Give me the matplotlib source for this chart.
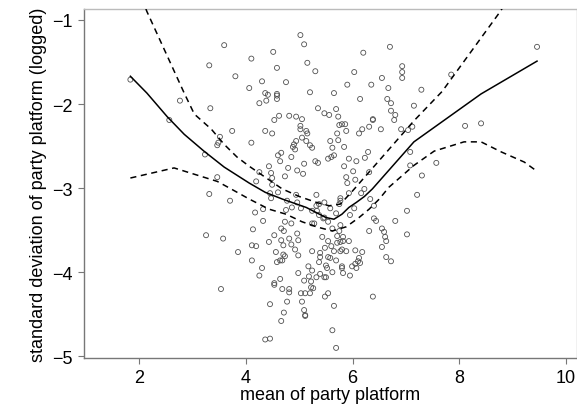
import numpy as np
import matplotlib
matplotlib.use('Agg')
import matplotlib.pyplot as plt

plt.rcParams['font.family'] = ['Liberation Sans', 'DejaVu Sans']

# party platforms: mean (x) and logged standard deviation (y)
mean_platform = [
    3.59, 3.31, 3.80, 1.83, 5.02, 5.09, 4.51, 4.10, 4.58, 5.15, 5.30, 4.30, 4.75, 4.06, 4.36, 4.58,
    5.20, 5.65, 5.90, 6.03, 6.20, 6.70, 6.93, 6.93, 6.93, 6.55, 6.35, 6.67, 9.46, 7.85, 7.29,
    2.76, 3.33, 2.56, 3.74, 3.51, 3.48, 3.46, 3.23, 3.46,
    4.25, 4.38, 4.41, 4.58, 4.58, 6.14, 6.65, 6.72, 7.15, 5.35, 5.47, 5.56, 5.69, 5.73, 4.53, 4.62,
    4.81, 4.94, 5.05, 5.02, 5.02, 5.13, 5.15, 5.75, 5.80, 5.86, 5.88, 5.71, 6.38, 6.38, 6.72, 6.80,
    6.78, 6.31, 6.18, 6.12, 6.53, 6.91, 7.04, 7.12, 4.36, 4.49, 4.10, 5.05, 4.94, 5.13, 4.90, 4.88,
    4.92, 5.20, 5.24, 5.58, 5.73, 5.62, 5.84, 4.60, 4.66, 4.64, 4.85, 5.30, 5.35, 5.54, 5.60, 5.65,
    5.93, 6.07, 6.23, 6.29, 7.08, 4.43, 4.79, 5.09, 4.73, 4.96, 5.07, 5.84, 6.01, 5.88, 5.90, 6.05,
    4.47, 4.49, 4.49, 4.25, 4.19, 6.31, 7.08,
    8.11, 8.41, 7.57, 7.30,
    3.31, 3.70, 3.25, 3.57, 3.85,
    4.45, 4.47, 4.60, 4.94, 5.32, 5.77, 5.93, 6.16, 6.22, 4.17, 4.32, 4.32, 4.13, 4.11, 4.19, 4.11,
    4.30, 4.25, 4.53, 4.64, 4.77, 4.96, 4.75, 4.86, 5.03, 5.24, 5.32, 5.37, 5.47, 5.33, 5.37, 5.45,
    5.58, 5.69, 5.75, 5.77, 6.03, 5.95, 4.73, 4.85, 4.66, 4.71, 4.81, 4.96, 4.98, 5.24, 5.28, 5.47,
    5.62, 5.75, 5.77, 5.54, 4.53, 4.43, 4.66, 4.70, 4.85, 4.92, 5.43, 5.54, 5.71, 5.82, 5.82, 5.93,
    5.77, 5.71, 5.48, 5.60, 5.65, 5.77, 5.80, 5.88, 6.05, 6.18, 4.56, 4.58, 4.64, 4.68, 4.70, 4.73,
    4.98, 5.24, 5.39, 5.39, 5.37, 5.54, 5.17, 5.24, 5.50, 5.52, 5.47, 5.50, 5.62, 5.58, 5.69, 5.80,
    5.80, 5.99, 6.05, 6.10, 6.12, 6.14, 6.07, 4.98, 5.09, 5.18, 5.22, 5.39, 5.32, 5.82, 5.95, 6.31,
    6.40, 6.40, 6.44, 6.33, 6.55, 6.59, 6.61, 6.63, 6.55, 6.63, 6.72, 6.80, 7.02, 7.02,
    7.21, 3.53,
    4.53, 4.68, 4.81, 4.81, 5.03, 5.11, 5.20, 5.22, 5.26, 5.48, 5.54, 5.65, 6.38, 4.45, 4.77, 5.05,
    4.71, 5.09, 5.11, 5.11, 4.66, 5.62, 4.36, 4.45, 5.69,
]
sd_platform = [
    -1.30, -1.54, -1.67, -1.71, -1.18, -1.29, -1.38, -1.46, -1.57, -1.51, -1.61, -1.73, -1.74, -1.81, -1.87, -1.88,
    -1.86, -1.87, -1.77, -1.62, -1.39, -1.32, -1.55, -1.62, -1.69, -1.69, -1.77, -1.81, -1.32, -1.65, -1.83,
    -1.96, -2.05, -2.19, -2.32, -2.39, -2.46, -2.49, -2.60, -2.87,
    -1.99, -1.96, -1.89, -1.90, -1.94, -1.94, -1.94, -1.99, -2.02, -2.05, -2.11, -2.13, -2.06, -2.15, -2.19, -2.14,
    -2.14, -2.15, -2.18, -2.26, -2.30, -2.32, -2.35, -2.25, -2.24, -2.24, -2.32, -2.35, -2.18, -2.19, -2.08, -2.13,
    -2.19, -2.27, -2.30, -2.35, -2.30, -2.30, -2.31, -2.27, -2.32, -2.35, -2.46, -2.40, -2.44, -2.44, -2.48, -2.51,
    -2.54, -2.49, -2.52, -2.44, -2.43, -2.52, -2.51, -2.61, -2.58, -2.68, -2.63, -2.68, -2.70, -2.65, -2.63, -2.61,
    -2.65, -2.68, -2.64, -2.57, -2.57, -2.74, -2.76, -2.71, -2.86, -2.79, -2.83, -2.74, -2.80, -2.87, -2.94, -2.90,
    -2.82, -2.88, -2.96, -2.81, -2.92, -2.81, -2.73,
    -2.26, -2.23, -2.70, -2.85,
    -3.07, -3.15, -3.56, -3.60, -3.76,
    -3.06, -3.12, -3.05, -3.08, -3.08, -3.12, -3.06, -3.06, -3.01, -3.29, -3.25, -3.39, -3.49, -3.68, -3.69, -3.86,
    -3.95, -4.04, -4.13, -4.08, -3.15, -3.17, -3.26, -3.23, -3.24, -3.27, -3.21, -3.19, -3.17, -3.27, -3.32, -3.36,
    -3.24, -3.30, -3.19, -3.15, -3.24, -3.32, -3.40, -3.42, -3.48, -3.51, -3.60, -3.54, -3.62, -3.42, -3.42, -3.35,
    -3.48, -3.51, -3.44, -3.40, -3.56, -3.64, -3.62, -3.68, -3.67, -3.73, -3.58, -3.63, -3.57, -3.58, -3.63, -3.63,
    -3.64, -3.65, -3.71, -3.69, -3.75, -3.75, -3.73, -3.75, -3.74, -3.76, -3.76, -3.88, -3.86, -3.86, -3.79, -3.81,
    -3.80, -3.75, -3.77, -3.82, -3.88, -3.82, -3.93, -3.98, -3.92, -3.95, -4.06, -4.06, -4.00, -3.83, -3.86, -3.93,
    -3.95, -3.93, -3.90, -3.87, -3.83, -3.89, -3.95, -4.01, -4.10, -4.05, -4.11, -4.02, -4.06, -4.01, -4.04, -3.51,
    -3.21, -3.36, -3.39, -3.13, -3.48, -3.52, -3.58, -3.63, -3.70, -3.82, -3.87, -3.39, -3.27, -3.55,
    -3.08, -4.20,
    -4.15, -4.20, -4.20, -4.24, -4.25, -4.25, -4.25, -4.18, -4.19, -4.29, -4.25, -4.40, -4.29, -4.38, -4.35, -4.35,
    -4.48, -4.45, -4.51, -4.52, -4.58, -4.69, -4.80, -4.79, -4.90,
]

# smoothed fit
fit_x = [1.83, 2.14, 2.52, 2.84, 3.21, 3.59, 4.06, 4.36, 4.68, 5.13, 5.50, 5.65, 5.80, 5.93,
         6.07, 6.22, 6.37, 7.15, 8.41, 9.46]
fit_y = [-1.67, -1.87, -2.15, -2.36, -2.56, -2.75, -2.94, -3.05, -3.13, -3.23, -3.35, -3.37, -3.31, -3.23,
         -3.17, -3.10, -3.01, -2.45, -1.88, -1.49]

# confidence band
upper_x = [1.83, 2.14, 2.84, 3.03, 3.35, 3.59, 3.83, 4.06, 4.68, 5.00, 5.32, 5.56, 5.77, 5.99,
           7.15, 7.68, 8.77, 9.46]
upper_y = [-0.40, -0.90, -1.87, -2.12, -2.30, -2.48, -2.63, -2.74, -3.01, -3.10, -3.17, -3.21, -3.19, -3.04,
           -2.20, -1.85, -0.90, -0.20]
lower_x = [1.83, 2.65, 3.46, 3.72, 4.06, 4.43, 4.75, 5.05, 5.32, 5.62, 5.88, 6.12, 6.31, 6.50,
           6.68, 7.15, 7.53, 8.09, 8.41, 8.79, 9.22, 9.46]
lower_y = [-2.88, -2.76, -2.92, -3.01, -3.13, -3.25, -3.31, -3.40, -3.46, -3.51, -3.46, -3.35, -3.25, -3.13,
           -2.99, -2.73, -2.56, -2.45, -2.45, -2.57, -2.69, -2.80]

x_ticks = [2, 4, 6, 8, 10]
y_ticks = [-5, -4, -3, -2, -1]

fig = plt.figure(figsize=(5.77, 4.06), dpi=100)
ax = fig.add_axes([0.1456, 0.1158, 0.8544, 0.8596])

ax.scatter(mean_platform, sd_platform, s=13, facecolors='none', edgecolors='#505050', linewidths=0.6, zorder=2)
ax.plot(fit_x, fit_y, color='black', lw=1.1, zorder=3)
ax.plot(upper_x, upper_y, color='black', lw=1.1, ls=(0, (4, 3)), zorder=3)
ax.plot(lower_x, lower_y, color='black', lw=1.1, ls=(0, (4, 3)), zorder=3)

ax.set_xlim(0.96, 10.21)
ax.set_ylim(-5.02, -0.87)
ax.set_xticks(x_ticks)
ax.set_yticks(y_ticks)
ax.set_xticklabels([str(t) for t in x_ticks])
ax.set_yticklabels(['\u2212' + str(-t) for t in y_ticks])
ax.tick_params(axis='both', labelsize=13, length=4, width=0.8, color='#777777', pad=4)

for side in ['top', 'right']:
    ax.spines[side].set_color('#bbbbbb')
for side in ['left', 'bottom']:
    ax.spines[side].set_color('#777777')
for s in ax.spines.values():
    s.set_linewidth(1.0)

ax.set_xlabel('mean of party platform', fontsize=13, labelpad=0)
ax.set_ylabel('standard deviation of party platform (logged)', fontsize=13, labelpad=4)

fig.savefig('out.png', dpi=100)
